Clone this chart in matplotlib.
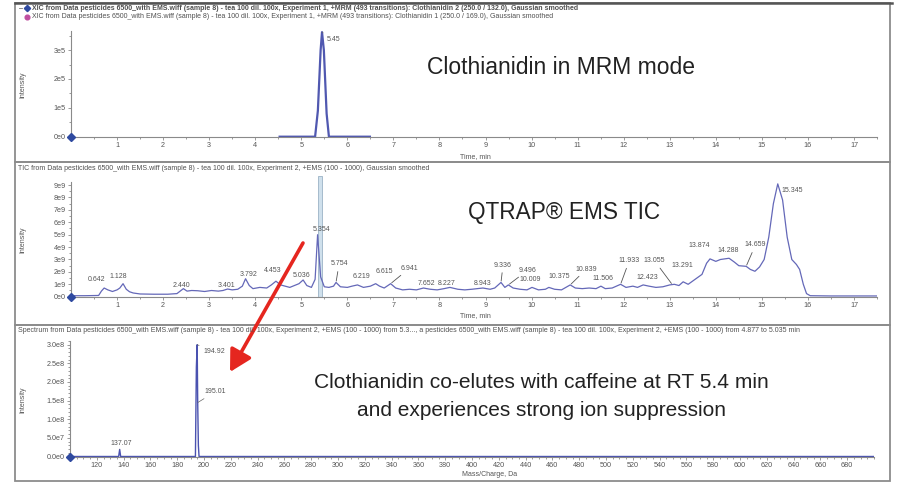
import numpy as np
import matplotlib
matplotlib.use("Agg")
import matplotlib.pyplot as plt
from matplotlib.patches import FancyArrowPatch, Rectangle
from matplotlib.lines import Line2D
from matplotlib.ticker import MultipleLocator

plt.rcParams['font.family'] = ['Liberation Sans', 'DejaVu Sans']

# ---------------- data ----------------
# Panel 1: XIC, MRM (Clothianidin)
mrm_time = [4.53, 5.30, 5.36, 5.42, 5.45, 5.49, 5.55, 5.60, 6.49]
mrm_int = [0, 0, 0.9e5, 3.0e5, 3.62e5, 3.0e5, 0.8e5, 0, 0]
mrm_peak = 5.45
mrm_peak_label = "5.45"

# Panel 2: TIC (intensity in units of 1e9)
tic_time = [0.0, 0.3, 0.6, 0.66, 0.72, 0.8, 0.9, 1.0, 1.06, 1.13, 1.2, 1.27, 1.35, 1.5, 1.8, 2.1,
            2.3, 2.37, 2.44, 2.52, 2.62, 2.75, 2.9, 3.05, 3.2, 3.3, 3.4, 3.5, 3.62, 3.72, 3.79,
            3.87, 3.95, 4.1, 4.25, 4.35, 4.45, 4.55, 4.65, 4.75, 4.85, 4.95, 5.04, 5.12, 5.22,
            5.3, 5.354, 5.42, 5.5, 5.6, 5.7, 5.754, 5.85, 6.0, 6.1, 6.22, 6.35, 6.5, 6.615,
            6.7, 6.8, 6.94, 7.05, 7.2, 7.35, 7.5, 7.652, 7.8, 7.95, 8.1, 8.227, 8.4, 8.55,
            8.7, 8.943, 9.1, 9.2, 9.336, 9.42, 9.496, 9.6, 9.75, 9.9, 10.009, 10.15, 10.3,
            10.375, 10.5, 10.65, 10.839, 10.95, 11.1, 11.25, 11.4, 11.506, 11.6, 11.75,
            11.933, 12.05, 12.2, 12.3, 12.423, 12.55, 12.7, 12.85, 13.0, 13.1, 13.2, 13.291,
            13.4, 13.55, 13.7, 13.8, 13.874, 14.0, 14.1, 14.2, 14.288, 14.4, 14.5, 14.659,
            14.75, 14.85, 14.95, 15.05, 15.15, 15.25, 15.345, 15.45, 15.55, 15.65, 15.75,
            15.82, 15.9, 15.97, 16.05, 16.5, 17.0, 17.5]
tic_int = [0.08, 0.08, 0.1, 0.45, 0.7, 0.55, 0.42, 0.55, 0.7, 1.05, 0.6, 0.4, 0.3, 0.22, 0.2, 0.2,
           0.25, 0.45, 0.65, 0.45, 0.5, 0.48, 0.42, 0.5, 0.45, 0.5, 0.62, 0.55, 0.6, 0.85, 1.45,
           0.9, 0.65, 0.75, 0.7, 0.95, 1.25, 0.95, 0.85, 0.75, 0.9, 1.05, 1.35, 0.9, 0.75,
           1.4, 5.0, 1.6, 0.8, 0.75, 0.85, 1.15, 0.8, 0.75, 0.85, 0.95, 0.75, 0.85, 1.05,
           0.85, 0.7, 1.05, 0.7, 0.55, 0.6, 0.55, 0.7, 0.6, 0.55, 0.65, 0.75, 0.6, 0.55,
           0.6, 0.7, 0.6, 0.7, 1.15, 0.75, 0.95, 0.7, 0.6, 0.55, 0.75, 0.55, 0.6,
           0.75, 0.6, 0.55, 0.95, 0.7, 0.65, 0.7, 0.65, 0.85, 0.65, 0.7,
           1.0, 0.75, 0.85, 0.75, 0.95, 0.85, 0.75, 0.8, 0.95, 1.0, 0.9, 1.2,
           1.0, 1.4, 1.8, 2.7, 3.05, 2.85, 3.0, 3.05, 3.1, 2.8, 2.5, 2.45,
           2.2, 2.05, 2.4, 3.0, 4.8, 7.5, 9.1, 7.8, 4.8, 3.0, 2.6,
           2.2, 1.0, 0.25, 0.08, 0.06, 0.06, 0.06]
tic_peak_text = ["0.642", "1.128", "2.440", "3.401", "3.792", "4.453", "5.036", "5.354", "5.754",
                 "6.219", "6.615", "6.941", "7.652", "8.227", "8.943", "9.336", "9.496",
                 "10.009", "10.375", "10.839", "11.506", "11.933", "12.423", "13.055",
                 "13.291", "13.874", "14.288", "14.659", "15.345"]
tic_peak_time = [0.72, 1.13, 2.44, 3.4, 3.79, 4.45, 5.04, 5.354, 5.754,
                 6.22, 6.615, 6.94, 7.652, 8.227, 8.943, 9.336, 9.496,
                 10.009, 10.375, 10.839, 11.506, 11.933, 12.423, 13.055,
                 13.291, 13.874, 14.288, 14.659, 15.345]
# label positions (time, 1e9)
tic_label_x = [0.56, 1.03, 2.40, 3.38, 3.85, 4.37, 5.0, 5.44, 5.82,
               6.31, 6.81, 7.35, 7.72, 8.15, 8.94, 9.38, 9.92,
               9.96, 10.6, 11.19, 11.55, 12.12, 12.52, 12.67,
               13.28, 13.64, 14.26, 14.86, 15.67]
tic_label_y = [1.35, 1.6, 0.94, 0.94, 1.83, 2.15, 1.67, 5.43, 2.64,
               1.6, 2.0, 2.3, 1.08, 1.08, 1.08, 2.55, 2.15,
               1.35, 1.6, 2.23, 1.43, 2.9, 1.56, 2.9,
               2.55, 4.09, 3.7, 4.17, 8.55]
tic_leader = [False, False, False, False, False, False, False, False, True,
              False, False, True, False, False, False, True, True,
              False, False, True, False, True, False, True,
              False, False, False, True, False]

# Panel 3: spectrum
spec_mz = [100, 136.3, 137.07, 137.8, 193.6, 194.3, 194.92, 195.3, 195.8, 196.3, 700]
spec_int = [0, 0, 1.9e7, 0, 0, 2.4e8, 3.0e8, 1.45e8, 0.3e8, 0, 0]
spec_labels = ["137.07", "194.92", "195.01"]
spec_label_mz = [137.07, 194.92, 195.4]
spec_label_int = [1.9e7, 3.0e8, 1.45e8]
spec_text_x = [138.5, 207.5, 208.5]
spec_text_y = [0.36e8, 2.82e8, 1.74e8]

time_ticks = list(range(1, 18))
mz_ticks = list(range(120, 700, 20))

# ---------------- layout helpers ----------------
W, H = 905, 483
fig = plt.figure(figsize=(W / 100, H / 100), dpi=100)


def rect(l, r, t, b):
    return [l / W, 1 - b / H, (r - l) / W, (b - t) / H]


def fx(x):
    return x / W


def fy(y):
    return 1 - y / H


GRAY = '#8a8a8a'
TXT = '#555555'
LINE = '#6468b8'


def style(ax):
    ax.set_facecolor('none')
    for s in ['top', 'right']:
        ax.spines[s].set_visible(False)
    for s in ['left', 'bottom']:
        ax.spines[s].set_color(GRAY)
        ax.spines[s].set_linewidth(0.8)
    ax.tick_params(which='both', labelsize=5.2, colors=GRAY, labelcolor=TXT,
                   length=2.2, width=0.6, pad=1.5)
    ax.tick_params(which='minor', length=1.4)


# frames
for (t, b) in [(3, 162), (162, 325), (325, 481)]:
    fig.add_artist(Rectangle((fx(15), fy(b)), fx(890) - fx(15), fy(t) - fy(b),
                             transform=fig.transFigure, fill=False,
                             edgecolor='#8c8c8c', lw=1.3))
fig.add_artist(Line2D([fx(15), fx(892)], [fy(3), fy(3)], transform=fig.transFigure,
                      color='#555555', lw=1.8))

hdr = dict(fontsize=5.0, color='#505050', va='center', ha='left')
fig.add_artist(Line2D([fx(19), fx(22)], [fy(8), fy(8)], transform=fig.transFigure,
                      color='#777777', lw=0.6))
fig.add_artist(Line2D([fx(27)], [fy(8)], transform=fig.transFigure, marker='D',
                      color='#2f4aa0', ms=3.2, lw=0))
fig.add_artist(Line2D([fx(27)], [fy(17)], transform=fig.transFigure, marker='o',
                      color='#c04fa0', ms=3.4, lw=0))
fig.text(fx(32), fy(8), "XIC from Data pesticides 6500_with EMS.wiff (sample 8) - tea 100 dil. 100x, "
         "Experiment 1, +MRM (493 transitions): Clothianidin 2 (250.0 / 132.0), Gaussian smoothed",
         fontweight='bold', **hdr)
fig.text(fx(32), fy(17), "XIC from Data pesticides 6500_with EMS.wiff (sample 8) - tea 100 dil. 100x, "
         "Experiment 1, +MRM (493 transitions): Clothianidin 1 (250.0 / 169.0), Gaussian smoothed",
         **hdr)
fig.text(fx(18), fy(168), "TIC from Data pesticides 6500_with EMS.wiff (sample 8) - tea 100 dil. 100x, "
         "Experiment 2, +EMS (100 - 1000), Gaussian smoothed", **hdr)
fig.text(fx(18), fy(331), "Spectrum from Data pesticides 6500_with EMS.wiff (sample 8) - tea 100 dil. 100x, "
         "Experiment 2, +EMS (100 - 1000) from 5.3..., a pesticides 6500_with EMS.wiff (sample 8) - tea 100 dil. 100x, "
         "Experiment 2, +EMS (100 - 1000) from 4.877 to 5.035 min", **hdr)

# ---------------- panel 1 ----------------
ax1 = fig.add_axes(rect(71, 877, 31, 136.7))
style(ax1)
ax1.plot(mrm_time, mrm_int, color='#5058b0', lw=1.6)
ax1.set_xlim(0, 17.5)
ax1.set_ylim(0, 3.66e5)
ax1.set_xticks(time_ticks)
ax1.xaxis.set_minor_locator(MultipleLocator(0.5))
ax1.set_yticks([0, 1e5, 2e5, 3e5])
ax1.set_yticklabels(["0e0", "1e5", "2e5", "3e5"])
ax1.yaxis.set_minor_locator(MultipleLocator(5e4))
ax1.plot([0], [0], marker='D', color='#2f4aa0', ms=4, clip_on=False, zorder=5)
ax1.annotate(mrm_peak_label, xy=(mrm_peak, max(mrm_int)), xytext=(5.69, 3.35e5),
             fontsize=5, color=TXT, ha='center', va='center',
             arrowprops=dict(arrowstyle='-', lw=0.5, color='#666666', shrinkA=1, shrinkB=0))

# ---------------- panel 2 ----------------
ax2 = fig.add_axes(rect(71, 877, 182, 296.7))
style(ax2)
ax2.axvspan(5.36, 5.44, ymin=0, ymax=1.05, color='#cfe0ec', ec='#9bb3c6', lw=0.6, clip_on=False)
ax2.plot(tic_time, np.array(tic_int) * 1e9, color=LINE, lw=0.9)
ax2.set_xlim(0, 17.5)
ax2.set_ylim(0, 9.25e9)
ax2.set_xticks(time_ticks)
ax2.xaxis.set_minor_locator(MultipleLocator(0.5))
ax2.set_yticks([i * 1e9 for i in range(10)])
ax2.set_yticklabels(["0e0"] + [f"{i}e9" for i in range(1, 10)])
ax2.yaxis.set_minor_locator(MultipleLocator(5e8))
ax2.plot([0], [0], marker='D', color='#2f4aa0', ms=4, clip_on=False, zorder=5)
for txt, pt, lx, ly, lead in zip(tic_peak_text, tic_peak_time, tic_label_x, tic_label_y, tic_leader):
    py = np.interp(pt, tic_time, tic_int)
    kw = {}
    if lead:
        kw['arrowprops'] = dict(arrowstyle='-', lw=0.6, color='#555555', shrinkA=1, shrinkB=1)
    ax2.annotate(txt, xy=(pt, py * 1e9), xytext=(lx, ly * 1e9), fontsize=5, color=TXT,
                 ha='center', va='center', **kw)

# ---------------- panel 3 ----------------
ax3 = fig.add_axes(rect(70, 874, 341, 456.5))
style(ax3)
ax3.plot(spec_mz, spec_int, color='#4a52b0', lw=1.0)
ax3.set_xlim(100, 700)
ax3.set_ylim(0, 3.1e8)
ax3.set_xticks(mz_ticks)
ax3.xaxis.set_minor_locator(MultipleLocator(5))
ax3.set_yticks([0, 5e7, 1e8, 1.5e8, 2e8, 2.5e8, 3e8])
ax3.set_yticklabels(["0.0e0", "5.0e7", "1.0e8", "1.5e8", "2.0e8", "2.5e8", "3.0e8"])
ax3.yaxis.set_minor_locator(MultipleLocator(1e7))
ax3.plot([100], [0], marker='D', color='#2f4aa0', ms=4, clip_on=False, zorder=5)
for txt, mz, iv, tx, ty in zip(spec_labels, spec_label_mz, spec_label_int, spec_text_x, spec_text_y):
    ax3.annotate(txt, xy=(mz, iv), xytext=(tx, ty), fontsize=5, color=TXT, ha='center', va='center',
                 arrowprops=dict(arrowstyle='-', lw=0.5, color='#666666', shrinkA=1, shrinkB=0))

# axis labels
lab = dict(fontsize=5, color=TXT)
fig.text(fx(460), fy(157), "Time, min", ha='left', va='center', **lab)
fig.text(fx(460), fy(316), "Time, min", ha='left', va='center', **lab)
fig.text(fx(462), fy(474), "Mass/Charge, Da", ha='left', va='center', **lab)
for yc in [85, 240, 400]:
    fig.text(fx(23), fy(yc), "Intensity", rotation=90, ha='center', va='center', **lab)

# big annotations
big = dict(color='#222222', ha='center', va='center')
fig.text(fx(561), fy(68), "Clothianidin in MRM mode", fontsize=16.5, **big)
fig.text(fx(564), fy(213), "QTRAP\u00ae EMS TIC", fontsize=16.3, **big)
fig.text(fx(541), fy(383), "Clothianidin co-elutes with caffeine at RT 5.4 min", fontsize=15.1, **big)
fig.text(fx(541), fy(410), "and experiences strong ion suppression", fontsize=15.0, **big)

# red arrow
arrow = FancyArrowPatch((fx(303), fy(243)), (fx(230), fy(372)), transform=fig.transFigure,
                        arrowstyle='-|>,head_length=1.0,head_width=0.55', mutation_scale=13,
                        color='#e5261f', lw=2.6, shrinkA=0, shrinkB=0)
fig.add_artist(arrow)

fig.savefig("out.png", dpi=100, facecolor='white')
